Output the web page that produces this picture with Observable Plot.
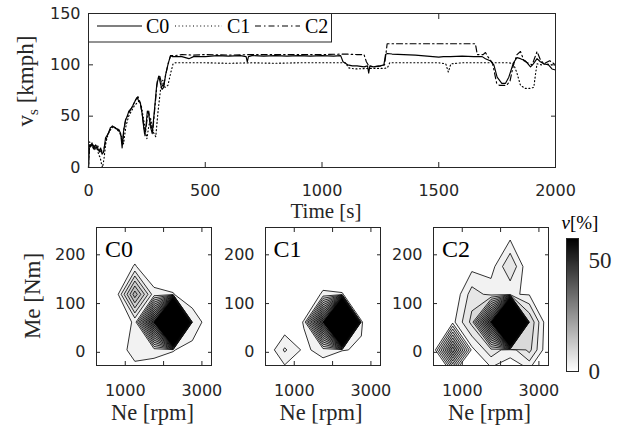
<!DOCTYPE html>
<html><head><meta charset="utf-8">
<script src="https://cdn.jsdelivr.net/npm/d3@7"></script>
<script src="https://cdn.jsdelivr.net/npm/@observablehq/plot@0.6"></script>
<style>
html,body{margin:0;padding:0;background:#fff;}
#chart{position:relative;width:623px;height:434px;overflow:hidden;background:#fff;}
#chart > svg{position:absolute;}
</style></head><body><div id="chart"></div>
<script>
// ---------- time series (speed vs time) ----------
const c0T = [0,3,8,15,22,30,37,45,52,58,65,73,85,94,105,118,130,138,144,150,158,166,173,185,194,202,208,215,222,230,236,240,246,252,258,265,273,282,292,301,308,315,322,330,340,351,360,380,400,430,450,500,550,600,650,675,680,685,700,750,800,850,900,950,1000,1050,1080,1090,1110,1130,1150,1180,1195,1200,1205,1220,1250,1265,1272,1280,1300,1350,1400,1450,1500,1520,1550,1600,1650,1686,1700,1720,1736,1750,1770,1786,1800,1820,1835,1850,1870,1893,1905,1921,1935,1950,1970,1985,2000];
const c0V = [0,22,20,24,18,22,20,16,19,13,15,29,33,39,40,38,37,33,19,35,46,50,55,58,62,66,68,65,63,52,40,33,40,55,52,40,33,55,80,89,82,76,78,90,100,109,108,108,108,106,108,108,109,108.5,109,108,103,108,109,108.5,109,108.5,109,108.5,109,108.5,109,103,100,99,99,98,99,92,99,98,99,100,110,111,110.5,110,109.5,108.5,107.5,108,108,108.5,108,108,106,104,100,88,82,82,88,102,107,106,104,98,101,106,103,101,100,96,95];
const c1T = [0,5,12,20,28,36,44,50,56,60,66,75,85,95,108,120,132,142,150,160,172,184,196,208,218,226,234,242,250,258,266,276,288,298,308,318,328,340,352,362,372,400,500,600,700,800,900,1000,1100,1115,1140,1200,1260,1280,1290,1400,1500,1530,1541,1552,1600,1700,1800,1820,1835,1850,1870,1890,1907,1915,1921,1940,1960,1980,2000];
const c1V = [0,25,20,23,17,20,12,10,3,0,8,25,33,37,40,37,35,30,23,40,50,55,60,63,65,60,50,38,28,40,48,35,30,55,75,85,78,80,92,101,102,102,102,101.5,102,101.5,102,102,102,97,96,96.5,96.5,97,102,102,102,101,93,101,102,102,102,101,92,80,77,77,78,92,101,100,101,100,100];
const c2T = [0,4,10,18,25,33,40,48,55,62,70,80,92,104,118,130,140,146,152,160,170,182,195,205,212,220,228,236,242,250,258,266,275,285,295,304,312,320,332,342,352,370,400,450,500,600,700,800,900,1000,1100,1150,1180,1190,1200,1220,1250,1268,1279,1300,1400,1500,1600,1657,1665,1690,1700,1710,1730,1748,1760,1790,1805,1820,1835,1850,1865,1880,1900,1921,1935,1950,1975,2000];
const c2V = [0,20,22,19,21,18,21,15,17,14,22,31,37,41,38,36,30,22,38,47,52,57,63,67,69,64,55,42,31,45,55,42,35,60,85,90,83,78,92,102,109,109,110,109.5,110,109.5,110,110,110,110,110.5,110,110,103,99,98,99,100,120.5,120.5,120.5,120.5,120.5,120.5,110,110,112,108,102,82,80,80,84,100,110,113,104,102,100,113,105,101,104,100];
const timeTicks = [0,500,1000,1500,2000];
const speedTicks = [0,50,100,150];
const seriesNames = ["C0","C1","C2"];

// ---------- operating-point distributions nu[%] on Ne x Me grid ----------
const neGrid = [250,750,1250,1750,2250,2750,3250];   // columns, rpm
const meGrid = [233,176,119,62,5,-52];               // rows top->bottom, Nm
const c0Grid = [
 0,0,0,0,0,0,0,
 0,0,3.3,0,0,0,0,
 0,0.4,20,4,3.2,0,0,
 0,0,3.6,43,300,6,0,
 0,0,5.1,4.3,3.2,1.5,0,
 0,0,0,0,0,0,0];
const c1Grid = [
 0,0,0,0,0,0,0,
 0,0,0,0,0,0,0,
 0,0,0,3.5,3.2,0,0,
 0,0,3.2,42,300,3.2,0,
 0,6.5,2.3,4.2,3.1,2.8,0,
 0,0,0,0,0,0,0];
const c2Grid = [
 0,0,0,0,2.7,0,0,
 0,0,2,1.5,9,0,0,
 0,0,7.5,5,3.2,2.8,0,
 0,2,10,44,300,12,0,
 0,30,2.05,8,4.2,10,0,
 0,0,0,0,0,0,0];
const levels = [3,6,9,12,15,18,21,24,27,30,33,36,39,42,45,48,51,54,57,60];
const neTicks = [1000,2000,3000];
const neLabels = [1000,3000];
const meTicks = [0,100,200];
const nuTicks = [0,50];

// ---------- layout ----------
const chart = document.getElementById("chart");
const AX = "#262626";
const SANS = "DejaVu Sans";
const SERIF = "Liberation Serif";
const fmt = d => String(d);
const colorScale = {type:"linear", domain:[0,60], range:["#ffffff","#000000"]};
function place(svg, left, top){ svg.style.left = left+"px"; svg.style.top = top+"px"; chart.appendChild(svg); }

const toRows = (T,V) => T.map((t,i)=>({t, v:V[i]}));
const dashes = [null,"1 2.6","6 3 1.5 3"];
const series = [toRows(c0T,c0V), toRows(c1T,c1V), toRows(c2T,c2V)];

const topPlot = Plot.plot({
  width: 623, height: 215,
  marginLeft: 88, marginRight: 68, marginTop: 13, marginBottom: 48,
  x: {domain:[0,2000]}, y: {domain:[0,150]},
  style: {fontFamily: SANS, fontSize: "16px", color: AX, background: "transparent", overflow: "visible"},
  marks: [
    ...series.map((d,i)=>Plot.line(d, {x:"t", y:"v", stroke:"black", strokeWidth:1.15, strokeDasharray: dashes[i] ?? undefined})),
    Plot.frame({stroke: AX}),
    Plot.axisX(timeTicks, {anchor:"bottom", tickSize:0, tickPadding:17, tickFormat: fmt, label:null}),
    Plot.axisX(timeTicks, {anchor:"bottom", tickSize:-5, fill:"none", label:null}),
    Plot.axisX(timeTicks, {anchor:"top", tickSize:-5, fill:"none", label:null}),
    Plot.axisY(speedTicks, {anchor:"left", tickSize:0, tickPadding:8, tickFormat: fmt, label:null}),
    Plot.axisY(speedTicks, {anchor:"left", tickSize:-5, fill:"none", label:null}),
    Plot.axisY(speedTicks, {anchor:"right", tickSize:-5, fill:"none", label:null})
  ]
});
place(topPlot, 0, 0);

const stepNe = neGrid[1]-neGrid[0];
const stepMe = meGrid[0]-meGrid[1];
function panel(values, frameLeft){
  const svg = Plot.plot({
    width: 168, height: 190,
    marginLeft: 50, marginRight: 3, marginTop: 12, marginBottom: 40,
    x: {domain:[250,3250]}, y: {domain:[-27,256]},
    color: colorScale,
    style: {fontFamily: SANS, fontSize: "16px", color: AX, background: "transparent", overflow: "visible"},
    marks: [
      Plot.contour(values, {
        width: neGrid.length, height: meGrid.length,
        x1: neGrid[0]-stepNe/2, x2: neGrid[neGrid.length-1]+stepNe/2,
        y1: meGrid[0]+stepMe/2, y2: meGrid[meGrid.length-1]-stepMe/2,
        fill: Plot.identity, stroke: "black", strokeWidth: 0.8, thresholds: levels, clip: true
      }),
      Plot.frame({stroke: AX}),
      Plot.axisX(neLabels, {anchor:"bottom", tickSize:0, tickPadding:19, tickFormat: fmt, label:null}),
      Plot.axisX(neTicks, {anchor:"bottom", tickSize:-4, fill:"none", label:null}),
      Plot.axisX(neTicks, {anchor:"top", tickSize:-4, fill:"none", label:null}),
      Plot.axisY(meTicks, {anchor:"left", tickSize:0, tickPadding:11, tickFormat: fmt, label:null}),
      Plot.axisY(meTicks, {anchor:"left", tickSize:-4, fill:"none", label:null}),
      Plot.axisY(meTicks, {anchor:"right", tickSize:-4, fill:"none", label:null})
    ]
  });
  place(svg, frameLeft-50, 215);
}
const panelLefts = [96, 264.5, 433];
[c0Grid, c1Grid, c2Grid].forEach((g,i)=>panel(g, panelLefts[i]));

const cb = Plot.plot({
  width: 83, height: 161, marginLeft: 26, marginRight: 45, marginTop: 13, marginBottom: 15,
  x: {domain:[0,1], axis:null}, y: {domain:[0,60]},
  color: colorScale,
  style: {fontFamily: SERIF, fontSize: "23px", color: AX, background: "transparent", overflow: "visible"},
  marks: [
    Plot.raster({x1:0, x2:1, y1:0, y2:60, fill:(x,y)=>y}),
    Plot.frame({stroke: AX}),
    Plot.axisY(nuTicks, {anchor:"right", tickSize:0, tickPadding:10, tickFormat: fmt, label:null}),
    Plot.axisY(nuTicks, {anchor:"right", tickSize:-3, fill:"none", label:null}),
    Plot.axisY(nuTicks, {anchor:"left", tickSize:-3, fill:"none", label:null})
  ]
});
place(cb, 540, 225);

// ---------- overlay: labels, legend, titles ----------
const ov = d3.create("svg").attr("width",623).attr("height",434)
  .style("position","absolute").style("left","0px").style("top","0px").style("overflow","visible");
const g = ov.append("g").attr("font-family", SERIF).attr("fill", AX);
g.append("text").attr("x",326).attr("y",218).attr("text-anchor","middle").attr("font-size",21).text("Time [s]");
const vs = g.append("text").attr("transform","translate(33,81) rotate(-90)").attr("text-anchor","middle").attr("font-size",23);
vs.append("tspan").text("v");
vs.append("tspan").attr("font-size",15).attr("dy",5).text("s");
vs.append("tspan").attr("dy",-5).text(" [kmph]");
g.append("text").attr("transform","translate(40,296) rotate(-90)").attr("text-anchor","middle").attr("font-size",23).text("Me [Nm]");
panelLefts.forEach((L,i)=>{
  g.append("text").attr("x",L+56.5).attr("y",420).attr("text-anchor","middle").attr("font-size",22.5).text("Ne [rpm]");
  g.append("text").attr("x",L+9).attr("y",257).attr("font-size",24).attr("fill","black").text(seriesNames[i]);
});
const nu = g.append("text").attr("x",580).attr("y",229).attr("text-anchor","middle").attr("font-size",19).attr("fill","black");
nu.append("tspan").attr("font-style","italic").text("ν");
nu.append("tspan").text("[%]");
// legend
const lg = ov.append("g");
lg.append("rect").attr("x",88.5).attr("y",13.5).attr("width",243).attr("height",28.5).attr("fill","white").attr("stroke",AX);
const lgLine = [[97,142],[175,222],[255,300]];
const lgText = [146,227,305];
seriesNames.forEach((n,i)=>{
  lg.append("line").attr("x1",lgLine[i][0]).attr("x2",lgLine[i][1]).attr("y1",26).attr("y2",26)
    .attr("stroke","black").attr("stroke-width",1.15).attr("stroke-dasharray", dashes[i]);
  lg.append("text").attr("x",lgText[i]).attr("y",32.5).attr("font-family",SERIF).attr("font-size",20).attr("fill","black").text(n);
});
chart.appendChild(ov.node());
</script></body></html>
